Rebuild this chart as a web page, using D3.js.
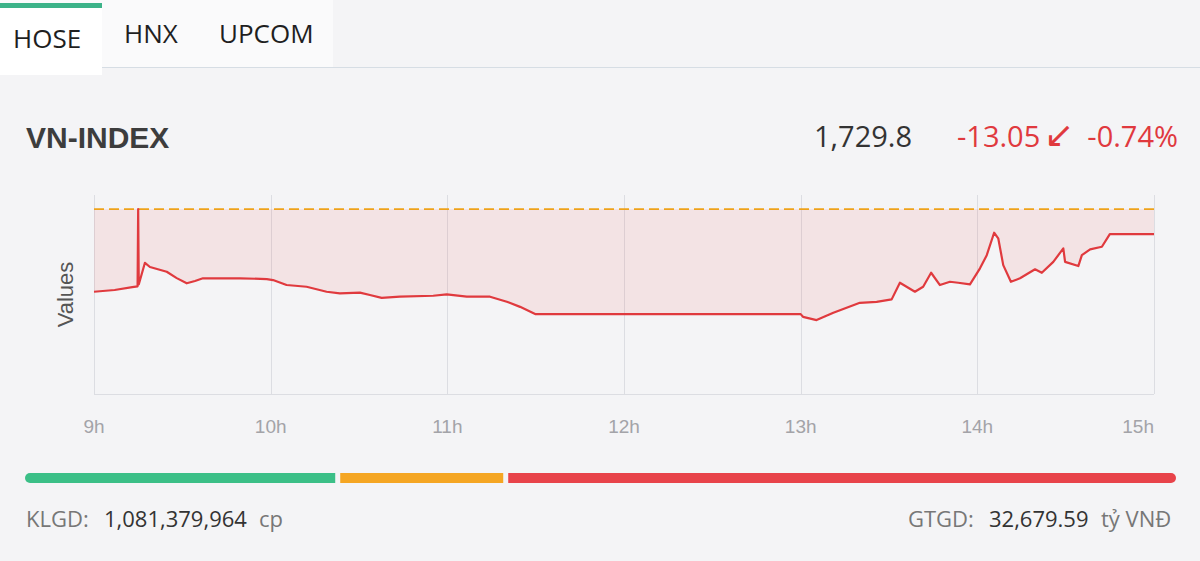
<!DOCTYPE html>
<html>
<head>
<meta charset="utf-8">
<script src="https://cdn.jsdelivr.net/npm/d3@7"></script>
<style>
  html, body { margin: 0; padding: 0; background: #f4f4f6; }
  svg { display: block; }
</style>
</head>
<body>
<div id="chart"></div>
<script>
// intraday VN-INDEX points (time, value)
var times = ["09:00:00", "09:07:00", "09:13:00", "09:14:48", "09:15:00", "09:15:12", "09:17:18", "09:19:00",
    "09:24:42", "09:28:06", "09:31:30", "09:34:18", "09:37:00", "09:49:36", "09:58:42", "10:00:48", "10:05:24",
    "10:12:12", "10:19:00", "10:23:30", "10:30:18", "10:33:42", "10:37:42", "10:43:54", "10:55:12", "10:59:48",
    "11:06:36", "11:14:30", "11:20:12", "11:24:42", "11:30:00", "13:00:00", "13:00:48", "13:05:24", "13:11:06",
    "13:20:06", "13:25:48", "13:30:54", "13:33:42", "13:38:48", "13:41:36", "13:44:18", "13:47:18", "13:50:42",
    "13:53:30", "13:57:30", "14:00:54", "14:03:12", "14:05:42", "14:07:06", "14:08:48", "14:11:24", "14:14:30",
    "14:19:36", "14:21:54", "14:25:48", "14:29:12", "14:29:48", "14:34:18", "14:35:30", "14:38:18", "14:42:18",
    "14:45:00", "15:00:00"];
var values = [1699.7, 1700.6, 1702.1, 1702.5, 1742.85, 1703.5, 1714.8, 1712.6,
    1710.1, 1706.8, 1704.1, 1705.3, 1706.7, 1706.7, 1706.3, 1705.8, 1703.2,
    1702.3, 1699.7, 1698.8, 1699.2, 1698.0, 1696.5, 1697.1, 1697.6, 1698.3,
    1697.1, 1697.1, 1694.5, 1691.8, 1688.0, 1688.0, 1686.6, 1684.9, 1688.7,
    1693.9, 1694.4, 1695.7, 1704.4, 1699.7, 1702.3, 1709.6, 1703.2, 1704.9,
    1704.4, 1703.5, 1711.9, 1718.8, 1730.5, 1727.6, 1713.6, 1704.9, 1706.7,
    1711.4, 1709.6, 1715.3, 1722.3, 1715.3, 1713.1, 1718.8, 1721.8, 1723.2,
    1729.8, 1729.8];

var refValue = 1742.85;   // previous close
var lastValue = 1729.8;
var change = -13.05;
var changePct = -0.74;

var tabs = ["HOSE", "HNX", "UPCOM"];
var hourTicks = ["09:00:00", "10:00:00", "11:00:00", "12:00:00", "13:00:00", "14:00:00", "15:00:00"];

// advancers / unchanged / decliners
var breadth = [118, 62, 254];
var breadthColors = ["#3bbf87", "#f5a623", "#e8434a"];

var volume = "1,081,379,964";
var turnover = "32,679.59";

var W = 1200, H = 561;
var parseT = d3.timeParse("%H:%M:%S");
var fmtNum = d3.format(",.1f");
// plain hyphen instead of unicode minus
var fmt2 = function(v) { return d3.format(".2f")(v).replace("\u2212", "-"); };

var data = times.map(function(t, i) { return { t: parseT(t), v: values[i] }; });

var svg = d3.select("#chart").append("svg")
    .attr("width", W)
    .attr("height", H);

svg.append("rect").attr("width", W).attr("height", H).attr("fill", "#f4f4f6");

// ---- tabs
svg.append("rect").attr("x", 0).attr("y", 0).attr("width", 333).attr("height", 67).attr("fill", "#fafafb");
svg.append("line").attr("x1", 102).attr("x2", W).attr("y1", 67.5).attr("y2", 67.5)
    .attr("stroke", "#d6dde4").attr("stroke-width", 1);
svg.append("rect").attr("x", 0).attr("y", 4).attr("width", 102).attr("height", 71).attr("fill", "#ffffff");
svg.append("rect").attr("x", 0).attr("y", 3).attr("width", 102).attr("height", 5).attr("fill", "#3db389");

var tabX = [13, 124, 219], tabY = [48, 43, 43];
svg.selectAll(".tab")
    .data(tabs)
    .enter().append("text")
    .attr("class", "tab")
    .attr("x", function(d, i) { return tabX[i]; })
    .attr("y", function(d, i) { return tabY[i]; })
    .style("font-family", "'Open Sans', sans-serif")
    .style("font-size", "26px")
    .style("fill", "#1f1f1f")
    .text(function(d) { return d; });

// ---- header
svg.append("text")
    .attr("x", 26).attr("y", 148)
    .style("font-family", "'Liberation Sans', Arial, sans-serif")
    .style("font-weight", "bold")
    .style("font-size", "30px")
    .style("fill", "#3d3d3d")
    .text("VN-INDEX");

svg.append("text")
    .attr("x", 912).attr("y", 147)
    .attr("text-anchor", "end")
    .style("font-family", "'Open Sans', sans-serif")
    .style("font-size", "29px")
    .style("fill", "#333")
    .text(fmtNum(lastValue));

var chg = [
    { x: 957, a: "start", t: fmt2(change), s: 29 },
    { x: 1059, a: "middle", t: "\u2199", s: 36 },
    { x: 1178, a: "end", t: fmt2(changePct) + "%", s: 29 }
];
svg.selectAll(".chg")
    .data(chg)
    .enter().append("text")
    .attr("class", "chg")
    .attr("x", function(d) { return d.x; })
    .attr("y", 147)
    .attr("text-anchor", function(d) { return d.a; })
    .style("font-family", "'Open Sans', 'DejaVu Sans', sans-serif")
    .style("font-size", function(d) { return d.s + "px"; })
    .style("fill", "#e0393e")
    .text(function(d) { return d.t; });

// ---- chart
var plot = { left: 94, right: 1154, top: 195, bottom: 394 };

var x = d3.scaleTime()
    .domain([parseT("09:00:00"), parseT("15:00:00")])
    .range([plot.left, plot.right]);

var y = d3.scaleLinear()
    .domain([1646.3, 1750.2])
    .range([plot.bottom, plot.top]);

var g = svg.append("g");

g.selectAll(".grid")
    .data(hourTicks)
    .enter().append("line")
    .attr("class", "grid")
    .attr("x1", function(d) { return Math.round(x(parseT(d))) + 0.5; })
    .attr("x2", function(d) { return Math.round(x(parseT(d))) + 0.5; })
    .attr("y1", plot.top)
    .attr("y2", plot.bottom)
    .attr("stroke", "#dcdde2")
    .attr("stroke-width", 1);

g.append("line")
    .attr("x1", plot.left).attr("x2", plot.right)
    .attr("y1", plot.bottom + 0.5).attr("y2", plot.bottom + 0.5)
    .attr("stroke", "#dcdde2");

var area = d3.area()
    .x(function(d) { return x(d.t); })
    .y0(y(refValue))
    .y1(function(d) { return y(d.v); });

g.append("path")
    .datum(data)
    .attr("d", area)
    .attr("fill", "#e53935")
    .attr("fill-opacity", 0.09);

g.append("line")
    .attr("x1", plot.left).attr("x2", plot.right)
    .attr("y1", y(refValue)).attr("y2", y(refValue))
    .attr("stroke", "#eea21a")
    .attr("stroke-width", 1.6)
    .attr("stroke-dasharray", "10,5");

var line = d3.line()
    .x(function(d) { return x(d.t); })
    .y(function(d) { return y(d.v); });

g.append("path")
    .datum(data)
    .attr("d", line)
    .attr("fill", "none")
    .attr("stroke", "#e03a3e")
    .attr("stroke-width", 2.2)
    .attr("stroke-linejoin", "round");

g.selectAll(".hourLabel")
    .data(hourTicks)
    .enter().append("text")
    .attr("class", "hourLabel")
    .attr("x", function(d) { return x(parseT(d)); })
    .attr("y", 433)
    .attr("text-anchor", function(d, i) { return i == hourTicks.length - 1 ? "end" : "middle"; })
    .style("font-family", "'Liberation Sans', Arial, sans-serif")
    .style("font-size", "19px")
    .style("fill", "#a3a3a8")
    .text(function(d) { return d3.timeFormat("%-Hh")(parseT(d)); });

svg.append("text")
    .attr("transform", "translate(73," + ((plot.top + plot.bottom) / 2) + ") rotate(-90)")
    .attr("text-anchor", "middle")
    .style("font-family", "'Liberation Sans', Arial, sans-serif")
    .style("font-size", "22px")
    .style("fill", "#555")
    .text("Values");

// ---- breadth bar
var gap = 5;
var barLeft = 25, barRight = 1176;
var bx = d3.scaleLinear()
    .domain([0, d3.sum(breadth)])
    .range([0, barRight - barLeft - gap * (breadth.length - 1)]);

var acc = 0;
var segs = breadth.map(function(v, i) {
    var s = { x: barLeft + bx(acc) + gap * i, w: bx(v), c: breadthColors[i], i: i };
    acc += v;
    return s;
});

var bar = svg.append("g");
bar.selectAll(".seg")
    .data(segs)
    .enter().append("path")
    .attr("class", "seg")
    .attr("fill", function(d) { return d.c; })
    .attr("d", function(d) {
        var h = 10, r = 5, top = 473;
        var x0 = d.x, x1 = d.x + d.w;
        var rl = d.i == 0 ? r : 0, rr = d.i == segs.length - 1 ? r : 0;
        return "M" + (x0 + rl) + "," + top +
            "H" + (x1 - rr) +
            (rr ? "A" + r + "," + r + " 0 0 1 " + x1 + "," + (top + r) + "A" + r + "," + r + " 0 0 1 " + (x1 - rr) + "," + (top + h) : "V" + (top + h)) +
            "H" + (x0 + rl) +
            (rl ? "A" + r + "," + r + " 0 0 1 " + x0 + "," + (top + r) + "A" + r + "," + r + " 0 0 1 " + (x0 + rl) + "," + top : "V" + top) + "Z";
    });

// ---- footer
var foot = [
    { x: 26, t: "KLGD:", c: "#777" },
    { x: 104, t: volume, c: "#333" },
    { x: 259, t: "cp", c: "#777" },
    { x: 908, t: "GTGD:", c: "#777" },
    { x: 989, t: turnover, c: "#333" },
    { x: 1101, t: "tỷ VNĐ", c: "#777" }
];
svg.selectAll(".foot")
    .data(foot)
    .enter().append("text")
    .attr("class", "foot")
    .attr("x", function(d) { return d.x; })
    .attr("y", 527)
    .style("font-family", "'Open Sans', sans-serif")
    .style("font-size", "22px")
    .style("fill", function(d) { return d.c; })
    .text(function(d) { return d.t; });
</script>
</body>
</html>
